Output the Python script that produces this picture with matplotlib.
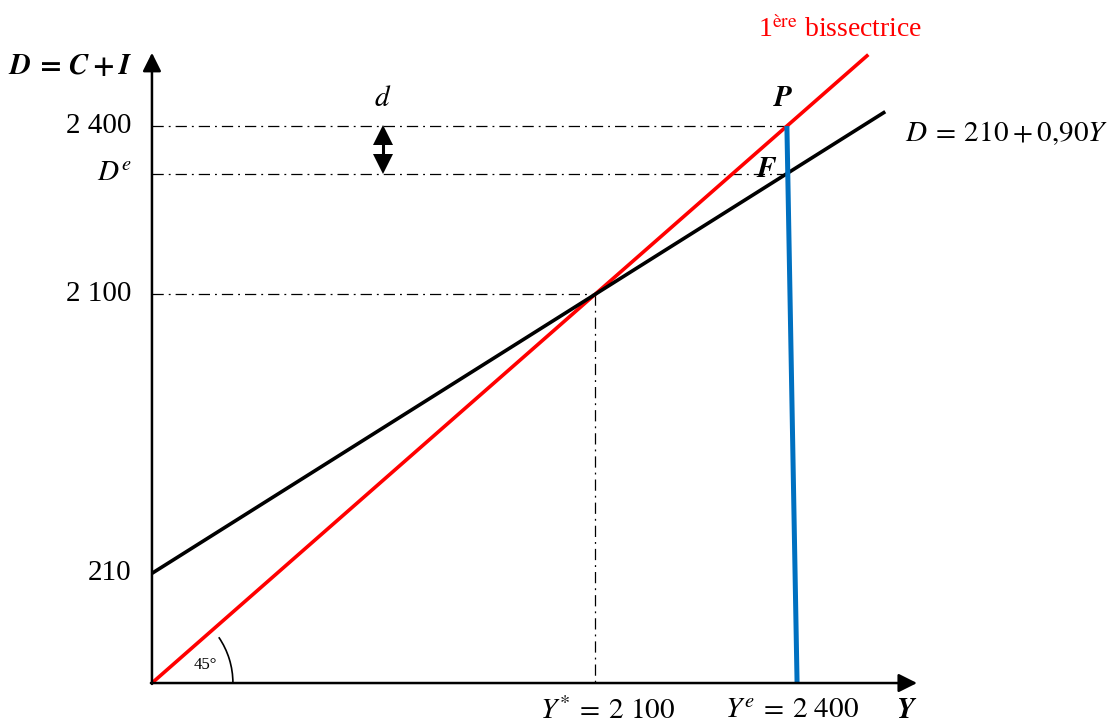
import numpy as np
import matplotlib
matplotlib.use('Agg')
import matplotlib.pyplot as plt
from matplotlib.patches import Arc

plt.rcParams['font.family'] = ['Liberation Serif', 'DejaVu Serif']
plt.rcParams['mathtext.fontset'] = 'stix'

# economic values shown on the chart (the drawing itself is schematic)
intercept = 210
mpc = 0.90
y_star = 2100
y_e = 2400
y_labels = ['210', '2 100', '$D^e$', '2 400']
x_labels = ['$Y^{*}\\:=\\:2\\ 100$', '$Y^{e}\\:=\\:2\\ 400$']

# schematic positions of those values on the drawing
draw_intercept = 590
draw_star = 2090
draw_e = 2996
draw_slope = (draw_star - draw_intercept) / draw_star
draw_de = draw_intercept + draw_slope * draw_e
y_pos = [draw_intercept, draw_star, draw_de, draw_e]
x_pos = [2150, 3020]

fig = plt.figure(figsize=(11.19, 7.23), dpi=100)
ax = fig.add_axes([0, 0, 1, 1])
ax.set_xlim(-717, 4563)
ax.set_ylim(-215, 3674)
ax.axis('off')

# axes with arrow heads
ax.annotate('', xy=(0, 3390), xytext=(0, -5),
            arrowprops=dict(arrowstyle='-|>', color='black', lw=1.8, mutation_scale=28, shrinkA=0, shrinkB=0))
ax.annotate('', xy=(3610, 0), xytext=(-5, 0),
            arrowprops=dict(arrowstyle='-|>', color='black', lw=1.8, mutation_scale=28, shrinkA=0, shrinkB=0))

# dash-dot guides
dd = (0, (9, 4, 1.5, 4))
ax.plot([0, draw_e], [draw_e, draw_e], color='black', lw=0.9, ls=dd)
ax.plot([0, draw_e], [draw_de, draw_de], color='black', lw=0.9, ls=dd)
ax.plot([0, draw_star], [draw_star, draw_star], color='black', lw=0.9, ls=dd)
ax.plot([draw_star, draw_star], [draw_star, 0], color='black', lw=0.9, ls=dd)

# 45 degree line and demand line
xr = np.array([0, 3380])
ax.plot(xr, xr, color='#ff0000', lw=2.6, solid_capstyle='butt')
xb = np.array([0, 3460])
ax.plot(xb, draw_intercept + draw_slope * xb, color='black', lw=2.6, solid_capstyle='butt')

# blue line at Y^e
ax.plot([draw_e, draw_e + 48], [draw_e, 0], color='#0070c0', lw=3.6, solid_capstyle='butt')

# gap d : shaft plus two triangular heads
head = 50
ax.plot([1090, 1090], [draw_de + head, draw_e - head], color='black', lw=2.2)
ax.plot([1090], [draw_e - head], marker='^', ms=14, color='black', mew=0)
ax.plot([1090], [draw_de + head], marker='v', ms=14, color='black', mew=0)
ax.text(1090, 3140, '$d$', fontsize=21, ha='center', va='center')

# 45 degree arc
ax.add_patch(Arc((0, 0), 2 * 382, 2 * 436, theta1=0, theta2=38, color='black', lw=1.2))
ax.text(250, 97, '45°', fontsize=12, ha='center', va='center')

# tick labels
for yp, lab in zip(y_pos, y_labels):
    ax.text(-95, yp, lab, fontsize=21, ha='right', va='center')
for xp, lab in zip(x_pos, x_labels):
    ax.text(xp, -150, lab, fontsize=21, ha='center', va='center')

ax.text(-94, 3314, r'$\boldsymbol{D\:=\:C\:+\:I}$', fontsize=21, ha='right', va='center')
ax.text(3563, -150, r'$\boldsymbol{Y}$', fontsize=21, ha='center', va='center')
ax.text(2978, 3140, r'$\boldsymbol{P}$', fontsize=21, ha='center', va='center')
ax.text(2900, 2760, r'$\boldsymbol{F}$', fontsize=21, ha='center', va='center')

ax.text(3247, 3513, '1$^{\\mathrm{ère}}$ bissectrice', fontsize=20, color='#ff0000', ha='center', va='center')
ax.text(3554, 2958, '$D\\:=\\:210\\:+\\:0{,}90Y$', fontsize=21, ha='left', va='center')

fig.savefig('out.png', dpi=100)
